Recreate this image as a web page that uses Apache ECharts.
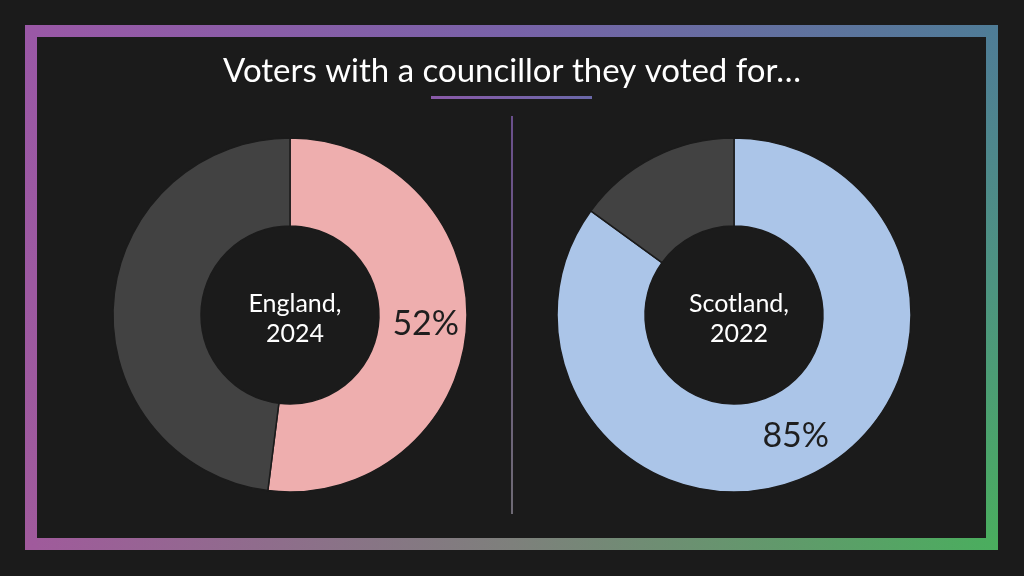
<!DOCTYPE html>
<html>
<head>
<meta charset="utf-8">
<script src="https://cdn.jsdelivr.net/npm/echarts@6/dist/echarts.min.js"></script>
<style>
html,body{margin:0;padding:0;background:#1b1b1b;}
#chart{width:1024px;height:576px;}
</style>
</head>
<body>
<div id="chart"></div>
<script>
const titleText = 'Voters with a councillor they voted for…';
const regions = ['England,\n2024', 'Scotland,\n2022'];
const englandValues = [52, 48];
const scotlandValues = [85, 15];
const sliceNames = ['Voted for councillor', 'Did not'];

const FONT = 'Lato';
const chart = echarts.init(document.getElementById('chart'));

function lg(x2, y2, stops) {
  return new echarts.graphic.LinearGradient(0, 0, x2, y2, stops.map((c, i) => ({offset: i / (stops.length - 1), color: c})));
}

function makePie(values, center, color) {
  return {
    type: 'pie',
    center: center,
    radius: [89, 177],
    startAngle: 90,
    clockwise: true,
    silent: true,
    itemStyle: {borderColor: '#1b1b1b', borderWidth: 1.5},
    label: {show: false},
    labelLine: {show: false},
    data: values.map((v, i) => ({
      name: sliceNames[i],
      value: v,
      itemStyle: {color: i === 0 ? color : '#424242'},
      label: i === 0 ? {
        show: true, position: 'inside', formatter: '{c}%',
        color: '#1e1e1e', fontSize: 34, fontFamily: FONT
      } : {show: false}
    }))
  };
}

chart.setOption({
  backgroundColor: '#1b1b1b',
  animation: false,
  title: [
    {text: titleText, left: 'center', top: 50,
     textStyle: {color: '#ffffff', fontSize: 33, fontWeight: 'normal', fontFamily: FONT}},
    {text: regions[0], left: 290, top: 314, textAlign: 'center', textVerticalAlign: 'middle',
     textStyle: {color: '#ffffff', fontSize: 25, fontWeight: 'normal', fontFamily: FONT, lineHeight: 30}},
    {text: regions[1], left: 734, top: 314, textAlign: 'center', textVerticalAlign: 'middle',
     textStyle: {color: '#ffffff', fontSize: 25, fontWeight: 'normal', fontFamily: FONT, lineHeight: 30}}
  ],
  graphic: [
    {type: 'rect', shape: {x: 25, y: 25, width: 973, height: 12},
     style: {fill: lg(1, 0, ['#9a58a6', '#7862a8', '#4f7c97'])}},
    {type: 'rect', shape: {x: 986, y: 25, width: 12, height: 525},
     style: {fill: lg(0, 1, ['#4f7c97', '#4d9480', '#4aae5e'])}},
    {type: 'rect', shape: {x: 25, y: 538, width: 973, height: 12},
     style: {fill: lg(1, 0, ['#a05a9c', '#7e807c', '#4aae5e'])}},
    {type: 'rect', shape: {x: 25, y: 25, width: 12, height: 525},
     style: {fill: lg(0, 1, ['#9a58a6', '#a05a9c'])}},
    {type: 'rect', shape: {x: 431, y: 96, width: 161, height: 3},
     style: {fill: lg(1, 0, ['#8a5aa8', '#6a68a8'])}},
    {type: 'rect', shape: {x: 511, y: 116, width: 2, height: 398},
     style: {fill: lg(0, 1, ['#6a4f8c', '#6e6a74'])}}
  ],
  series: [
    makePie(englandValues, [290, 315], '#eeaeae'),
    makePie(scotlandValues, [734, 315], '#abc5e8')
  ]
});
</script>
</body>
</html>
